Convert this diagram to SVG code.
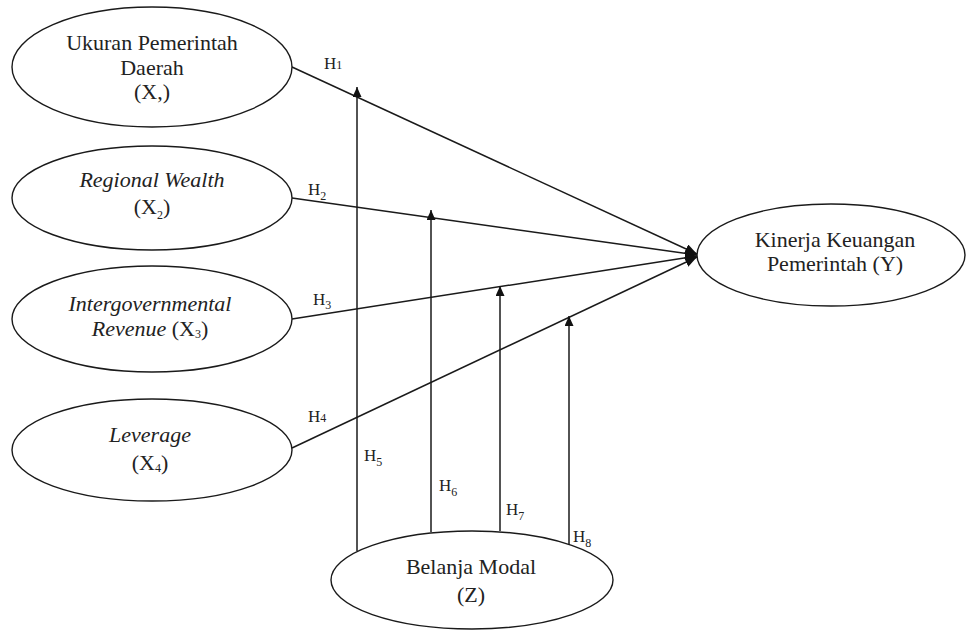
<svg xmlns="http://www.w3.org/2000/svg" width="966" height="630" viewBox="0 0 966 630">
<style>
.node ellipse{fill:#fff;stroke:#1a1a1a;stroke-width:1.4}
text{font-family:"Liberation Serif","Times New Roman",serif;fill:#222;text-anchor:middle}
.t{font-size:22px}
.i{font-style:italic}
.h{font-size:17px;text-anchor:start}
.s{font-size:12px}
.conn line{stroke:#1a1a1a;stroke-width:1.5;fill:none}
</style>
<defs>
<marker id="a" markerUnits="userSpaceOnUse" markerWidth="12" markerHeight="10" refX="12" refY="5" orient="auto">
<path d="M0,0 L12,5 L0,10 z" fill="#111"/>
</marker>
<marker id="b" markerUnits="userSpaceOnUse" markerWidth="10" markerHeight="9" refX="10" refY="4.5" orient="auto">
<path d="M0,0 L10,4.5 L0,9 z" fill="#111"/>
</marker>
</defs>
<g class="conn">
<line x1="292" y1="67" x2="697" y2="254" marker-end="url(#a)"/>
<line x1="292" y1="198" x2="697" y2="255" marker-end="url(#a)"/>
<line x1="292" y1="319" x2="697" y2="256" marker-end="url(#a)"/>
<line x1="292" y1="448" x2="697" y2="257" marker-end="url(#a)"/>
<line x1="357" y1="551" x2="357" y2="87" marker-end="url(#b)"/>
<line x1="431" y1="532" x2="431" y2="210" marker-end="url(#b)"/>
<line x1="500" y1="531" x2="500" y2="286" marker-end="url(#b)"/>
<line x1="569" y1="544" x2="569" y2="316" marker-end="url(#b)"/>
</g>
<g id="x1" class="node">
<ellipse cx="152" cy="67" rx="140" ry="60"/>
<text class="t" x="152" y="50">Ukuran Pemerintah</text>
<text class="t" x="152" y="75">Daerah</text>
<text class="t" x="152" y="99">(X,)</text>
</g>
<g id="x2" class="node">
<ellipse cx="152" cy="198" rx="140" ry="52"/>
<text class="t i" x="152" y="187">Regional Wealth</text>
<text class="t" x="152" y="214">(X<tspan class="s" dy="5">2</tspan><tspan dy="-5">)</tspan></text>
</g>
<g id="x3" class="node">
<ellipse cx="152" cy="319" rx="140" ry="53"/>
<text class="t i" x="150" y="311">Intergovernmental</text>
<text class="t" x="150" y="336"><tspan class="i">Revenue</tspan> (X<tspan class="s" dy="2">3</tspan><tspan dy="-2">)</tspan></text>
</g>
<g id="x4" class="node">
<ellipse cx="152" cy="450" rx="140" ry="51"/>
<text class="t i" x="150" y="442">Leverage</text>
<text class="t" x="150" y="470">(X<tspan class="s" dy="2">4</tspan><tspan dy="-2">)</tspan></text>
</g>
<g id="y" class="node">
<ellipse cx="831" cy="255" rx="134" ry="51"/>
<text class="t" x="835" y="247">Kinerja Keuangan</text>
<text class="t" x="835" y="271">Pemerintah (Y)</text>
</g>
<g id="z" class="node">
<ellipse cx="472" cy="580" rx="141" ry="49"/>
<text class="t" x="471" y="574">Belanja Modal</text>
<text class="t" x="471" y="602">(Z)</text>
</g>
<g id="labels">
<text class="h" x="324" y="69">H<tspan class="s">1</tspan></text>
<text class="h" x="308" y="195">H<tspan class="s" dy="5">2</tspan></text>
<text class="h" x="313" y="305">H<tspan class="s" dy="4">3</tspan></text>
<text class="h" x="308" y="422">H<tspan class="s">4</tspan></text>
<text class="h" x="364" y="461">H<tspan class="s" dy="5">5</tspan></text>
<text class="h" x="439" y="491">H<tspan class="s" dy="5">6</tspan></text>
<text class="h" x="506" y="515">H<tspan class="s" dy="5">7</tspan></text>
<text class="h" x="573" y="542">H<tspan class="s" dy="5">8</tspan></text>
</g>
</svg>
